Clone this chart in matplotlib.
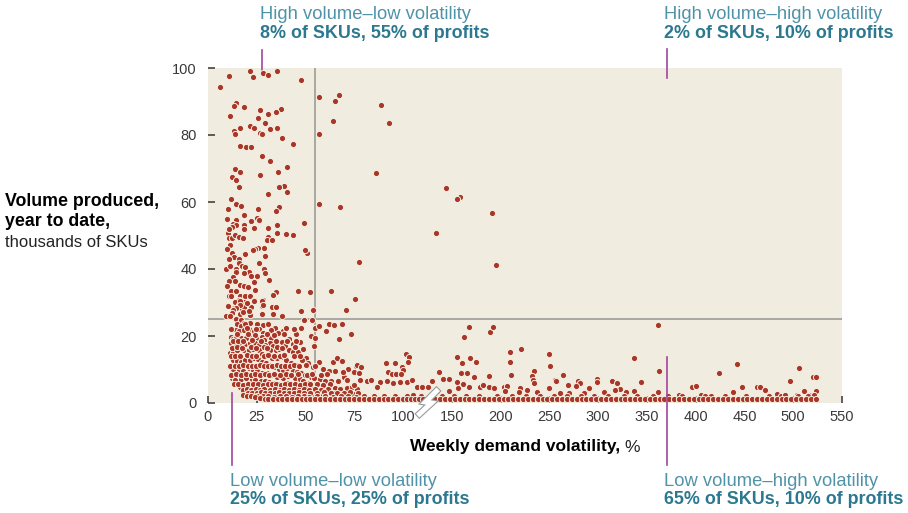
import numpy as np
import matplotlib
matplotlib.use("Agg")
import matplotlib.pyplot as plt
from matplotlib import transforms
import matplotlib.patheffects as pe

plt.rcParams['font.family'] = ['Liberation Sans', 'DejaVu Sans']

# ---------------- data ----------------
xticks = [0, 25, 50, 75, 100, 150, 200, 250, 300, 350, 400, 450, 500, 550]
yticks = [0, 20, 40, 60, 80, 100]
vol_cut = 25      # thousands of SKUs
volat_cut = 55    # weekly demand volatility, %

# high volume - low volatility
hvlv_x = [21.5, 10.6, 28.4, 30.8, 22.9, 35.4, 47.7, 6.0, 14.5, 13.2, 18.3, 26.8, 37.3, 34.7, 30.8, 11.3, 25.6, 29.4,
          16.4, 13.2, 13.8, 21.5, 23.6, 31.9, 35.4, 26.7, 27.5, 37.9, 43.7, 16.4, 19.6, 22.2, 27.5, 31.9, 40.5, 13.8,
          16.4, 26.8, 35.9, 12.5, 14.5, 15.7, 39.1, 36.6, 40.5, 30.8, 11.8,
          14.5, 17.1, 25.6, 36.6, 34.7, 18.3, 25.0, 26.2, 22.2, 14.4, 12.8, 14.5, 18.3, 18.3, 12.5, 23.6, 30.8, 35.4,
          49.1, 10.4, 10.6, 12.2, 13.8, 15.7, 17.8, 35.2, 39.8, 43.7, 30.8, 30.1, 32.7, 11.1, 28.7, 25.5, 24.3, 22.9,
          12.5, 19.0, 50.8, 49.9, 13.2, 29.4, 15.7, 16.1, 26.2, 17.4, 19.0, 9.2, 14.4, 14.4, 21.0, 28.7, 29.4, 18.3,
          22.2, 25.0, 12.7, 10.6, 13.7, 31.3, 23.6, 16.4, 18.3, 34.7, 33.3, 46.3, 52.2, 11.8, 14.2, 10.6, 16.4, 19.1,
          21.7, 28.1, 23.6, 15.7, 13.8, 18.3, 15.7, 27.5, 22.2, 32.8, 34.9, 13.2, 17.1,
          16.2, 23.6, 27.5, 28.4, 18.3, 16.2, 14.4, 13.0, 12.3, 9.2, 11.1, 16.4, 18.1, 21.5, 27.7, 33.3, 37.9, 47.7,
          53.8, 14.2,
          10.2, 9.8, 11.0, 9.5, 10.8, 11.5, 9.8, 12.0, 10.3, 20.5, 24.0, 21.0, 19.8]
hvlv_y = [99.2, 97.7, 98.4, 98.0, 97.3, 99.2, 96.5, 94.3, 89.5, 88.7, 88.3, 87.5, 87.9, 86.8, 86.4, 85.6, 85.2, 83.7,
          82.2, 81.1, 80.3, 82.6, 82.2, 81.8, 82.2, 80.7, 80.3, 79.1, 77.2, 76.8, 76.5, 76.5, 73.8, 72.3, 70.4, 69.8,
          69.0, 68.1, 69.0, 67.5, 66.7, 64.4, 64.8, 64.4, 62.9, 62.5, 60.8,
          59.5, 58.8, 58.0, 58.4, 57.2, 56.1, 55.3, 54.6, 54.2, 54.6, 53.5, 53.0, 53.0, 51.9, 52.6, 52.3, 52.3, 53.1,
          53.8, 50.8, 49.3, 49.3, 50.1, 49.6, 49.3, 50.8, 50.4, 50.1, 49.6, 48.6, 48.6, 47.1, 46.4, 46.4, 46.0, 45.6,
          44.7, 44.5, 44.8, 45.6, 43.7, 44.0, 43.0, 41.8, 41.8, 41.0, 40.6, 39.9, 39.9, 39.2, 39.2, 39.9, 38.8, 38.8,
          38.0, 38.0, 37.7, 36.5, 36.5, 36.8, 36.1, 35.2, 34.9, 33.1, 32.3, 33.5, 33.0, 33.5, 33.5, 31.9, 31.9, 31.9,
          31.9, 30.8, 30.8, 30.8, 30.1, 30.1, 29.3, 29.0, 28.6, 28.6, 28.6, 28.3, 28.3,
          30.4, 30.5, 30.4, 29.4, 28.7, 29.2, 28.5, 27.8, 26.8, 26.0, 26.1, 26.5, 27.1, 26.3, 26.7, 26.7, 26.0, 27.4,
          27.8, 25.2,
          58.0, 55.0, 52.0, 46.0, 43.0, 41.0, 35.0, 32.0, 29.0, 34.5, 33.8, 27.6, 29.8]

# high volume - high volatility
hvhv_x = [56.8, 67.2, 65.1, 63.9, 56.8, 88.7, 92.7, 85.9, 56.8, 67.8, 143.8, 158.2, 155.4, 191.4, 133.9, 77.4,
          195.5, 63.2, 75.5, 70.5]
hvhv_y = [91.3, 92.0, 90.1, 84.1, 80.3, 89.0, 83.7, 68.6, 59.5, 58.4, 64.1, 61.5, 60.8, 56.7, 50.7, 42.2,
          41.2, 33.5, 31.1, 27.8]

# low volume (both volatility classes), above the floor row
lv_x = [16.9, 18.3, 21.5, 14.9, 17.1, 19.0, 25.3, 28.2, 30.8, 34.2, 38.6, 45.1, 47.5, 49.4, 53.3, 54.9, 56.8, 62.1,
        64.6, 68.5, 60.7, 73.2, 67.4, 14.2, 15.7, 18.3, 21.0, 23.4, 26.2, 28.2, 29.7, 32.1, 36.1, 37.9, 41.4, 43.4,
        47.0, 52.8, 54.5, 54.9, 11.6, 13.0, 14.2, 16.9, 19.7, 22.4, 25.0, 27.5, 28.9, 31.8, 33.3, 34.7, 36.6, 39.3,
        41.7, 43.8, 46.0, 48.5, 50.3, 11.8, 14.2, 16.4, 19.0, 21.7, 23.9, 26.3, 29.4, 31.8, 11.3, 13.0, 15.0, 18.3,
        20.9, 23.2, 26.0, 27.5, 29.9, 32.6, 35.6, 37.9, 40.0, 42.4, 45.8, 48.0, 51.1, 53.7, 56.9, 59.1, 64.3, 68.5,
        66.0, 62.1, 65.1, 69.7, 72.1, 74.5, 75.9, 13.0, 14.9, 16.8, 19.1, 21.5, 23.6, 25.5, 27.7, 29.9, 32.0, 34.0,
        36.4, 38.6, 40.7, 43.4, 45.5, 47.5, 49.9, 52.6, 54.5, 57.4, 59.8, 63.1, 66.8, 71.5, 13.0, 15.9, 18.1, 20.9,
        23.2, 25.3, 27.9, 30.1, 32.3, 35.6, 38.6, 41.2, 44.6, 47.2, 48.9, 51.8, 55.4, 12.5, 13.8, 16.9, 19.7, 22.4,
        24.3, 27.0, 29.4, 31.5, 33.3, 36.1, 38.1, 40.3, 43.2, 45.5, 47.5, 50.6, 53.2, 56.2, 59.1, 62.2, 65.1, 67.7,
        71.1, 73.8, 76.2, 14.7, 16.4, 19.0, 21.4, 23.2, 25.8, 27.7, 30.1, 33.2, 35.6, 37.8, 40.3, 42.9, 45.1, 47.7,
        50.6, 54.0, 57.4, 60.9, 64.3, 67.7, 71.1, 74.2,
        68.6, 68.6, 71.8, 69.4, 74.9, 76.2, 78.3, 77.6, 77.9, 81.7, 83.4, 74.9, 91.1, 95.9, 92.5, 94.2, 96.4, 99.6,
        102.7, 106.2, 104.8, 100.3, 99.1, 98.5, 103.8, 109.5, 88.2, 91.6, 95.0, 86.8, 114.1, 119.2, 126.0, 129.5,
        137.3, 141.4, 147.5, 147.5, 134.6, 155.1, 160.3, 159.2, 166.0, 168.1, 175.0, 162.6, 167.1, 189.3, 192.1,
        173.2, 155.1, 156.8, 161.9, 167.1, 179.1, 182.4, 187.6, 188.6, 193.4, 203.0, 206.5, 209.2, 209.2, 220.8,
        210.7, 220.1, 218.4, 233.8, 232.1, 233.1, 227.0, 204.7,
        361.5, 249.2, 250.9, 233.8, 263.6, 256.1, 257.1, 269.1, 279.0, 281.0, 277.6, 298.9, 298.9, 291.0, 249.2,
        261.2, 270.4, 285.1, 237.3, 314.3, 319.4, 322.1, 317.7, 329.0, 336.4, 344.4, 336.4, 362.8, 361.5, 396.4,
        400.5, 405.6, 423.7, 382.6, 305.6,
        442.6, 447.3, 438.1, 463.1, 465.8, 470.9, 483.7, 487.1, 497.1, 506.3, 504.2, 511.4, 520.6, 523.3, 523.0,
        516.1, 415.2]
lv_y = [24.8, 24.0, 24.0, 23.7, 23.1, 23.7, 23.7, 23.2, 23.6, 22.5, 21.6, 20.6, 22.5, 24.9, 24.8, 22.5, 23.1, 23.6,
        23.3, 23.7, 21.4, 20.6, 19.1, 21.8, 21.4, 21.8, 22.1, 21.5, 22.1, 21.0, 20.0, 19.5, 21.0, 18.3, 19.1, 17.7,
        18.2, 19.9, 16.9, 19.5, 19.8, 19.0, 19.4, 19.5, 19.4, 19.5, 19.3, 19.6, 18.7, 17.9, 17.0, 15.9, 16.2, 17.1,
        15.7, 15.2, 15.3, 16.1, 13.3, 17.8, 17.5, 17.8, 17.7, 17.8, 18.0, 17.2, 17.4, 15.7, 14.8, 15.3, 15.7, 15.8,
        15.8, 16.0, 15.8, 14.7, 14.3, 13.3, 13.3, 13.7, 12.9, 12.0, 11.3, 12.9, 11.8, 10.8, 12.2, 10.1, 12.3, 12.5,
        13.3, 9.5, 9.6, 7.9, 9.8, 9.3, 10.9, 12.8, 12.5, 12.2, 12.9, 12.8, 13.3, 13.0, 12.2, 11.8, 11.4, 10.6,
        10.2, 9.9, 10.3, 9.6, 9.3, 9.0, 8.3, 7.7, 7.6, 7.3, 6.5, 6.5, 6.6, 7.0, 10.1, 9.9, 9.6, 10.3,
        9.9, 9.6, 9.1, 9.0, 8.5, 7.9, 7.6, 8.0, 7.6, 7.1, 6.5, 5.9, 5.1, 7.4, 6.9, 7.1, 7.4, 7.1,
        6.9, 6.6, 6.7, 6.3, 6.0, 5.8, 5.3, 5.9, 5.3, 4.8, 5.3, 4.6, 4.1, 3.8, 4.3, 4.6, 4.4, 4.3,
        4.5, 4.7, 4.3, 5.6, 4.9, 3.9, 4.5, 3.9, 4.4, 3.7, 3.3, 3.5, 4.1, 3.4, 3.6, 3.3, 2.7, 3.0,
        2.8, 2.7, 2.6, 2.9, 2.9, 2.7, 2.7, 2.6,
        23.6, 12.6, 10.1, 9.3, 9.3, 11.2, 10.8, 8.9, 6.9, 6.7, 6.9, 5.4, 12.0, 12.0, 9.3, 8.7, 8.7, 10.8,
        14.6, 13.6, 12.3, 9.9, 8.7, 6.4, 6.4, 6.9, 6.4, 6.7, 6.1, 4.9, 4.7, 4.9, 4.9, 6.7,
        9.3, 7.1, 7.1, 3.7, 3.7, 13.8, 11.8, 8.9, 8.9, 13.3, 12.2, 19.8, 22.6, 21.3, 22.6,
        7.7, 6.4, 4.4, 5.7, 4.7, 4.7, 5.4, 8.1, 4.7, 4.4, 4.7, 5.1, 15.3, 12.3, 16.0,
        8.4, 4.4, 3.4, 9.6, 8.1, 6.9, 3.9, 3.7,
        23.3, 14.6, 11.1, 5.9, 8.4, 6.9, 6.6, 5.5, 6.7, 5.9, 5.2, 7.1, 6.2, 4.4, 4.4,
        2.9, 2.9, 2.9, 3.4, 6.6, 5.9, 4.1, 3.9, 3.2, 13.3, 6.3, 3.7, 9.6, 3.2, 4.7,
        5.1, 2.4, 8.9, 2.4, 3.4,
        11.6, 4.7, 3.2, 4.7, 4.7, 3.9, 2.6, 2.2, 6.6, 10.4, 2.4, 3.6, 7.7, 7.7, 3.7,
        2.4, 2.2]

# extra SKUs filling the dense low-volume / low-volatility cloud
cloud_x = [12.0, 20.0, 24.5, 32.5, 40.0, 44.0,
           15.0, 20.5, 24.0, 30.5, 34.0, 39.0,
           12.8, 15.5, 18.0, 22.8, 27.0, 35.0, 40.5, 45.0,
           12.3, 14.7, 17.3, 22.0, 24.8, 28.5, 30.5, 35.5, 38.0, 44.5,
           12.0, 14.0, 16.3, 19.8, 22.3, 24.7, 28.8, 31.0, 34.0, 36.8, 39.0, 44.0, 47.0,
           11.5, 13.8, 15.8, 18.0, 20.3, 22.5, 24.7, 26.8, 28.8, 31.0, 33.0, 35.3, 37.5, 39.5, 42.0, 44.0, 46.5,
           50.0, 55.0,
           12.0, 14.5, 17.0, 19.3, 21.8, 24.2, 26.5, 29.0, 31.2, 33.8, 36.8, 39.8, 42.8, 46.0, 50.5, 53.5, 58.0,
           61.0,
           13.2, 15.6, 18.0, 20.5, 23.0, 25.6, 28.0, 30.6, 33.0, 35.0, 37.2, 39.5, 42.0, 44.5, 47.0, 49.7, 52.5,
           55.8, 59.0, 62.5,
           17.7, 20.2, 22.0, 24.5, 26.8, 28.8, 31.6, 34.3, 36.8, 39.0, 41.5, 44.0, 46.5, 49.0, 52.0, 55.0, 58.0,
           61.5,
           20.5, 22.5, 25.0, 27.3, 29.2, 31.8, 34.5, 36.5, 39.0, 41.5, 44.0, 46.5, 49.0, 52.5, 56.0, 59.5, 63.0,
           66.0, 69.5, 73.0, 77.0]
cloud_y = [22.0, 22.3, 22.0, 21.8, 22.4, 22.0,
           20.5, 20.6, 20.4, 20.7, 20.3, 20.6,
           18.5, 18.6, 18.4, 18.7, 18.5, 18.6, 18.4, 18.6,
           16.5, 16.6, 16.4, 16.7, 16.5, 16.6, 16.4, 16.6, 16.5, 16.7,
           14.0, 14.1, 13.9, 14.2, 14.0, 14.1, 13.9, 14.2, 14.0, 14.1, 14.3, 13.9, 14.1,
           11.0, 11.1, 10.9, 11.2, 11.0, 11.1, 10.9, 11.2, 11.0, 11.1, 10.9, 11.2, 11.0, 11.1, 10.9, 11.2, 11.0,
           11.2, 10.9,
           8.5, 8.6, 8.4, 8.7, 8.5, 8.6, 8.4, 8.7, 8.5, 8.6, 8.4, 8.7, 8.5, 8.6, 8.4, 8.7, 8.5, 8.6,
           5.6, 5.7, 5.5, 5.8, 5.6, 5.7, 5.5, 5.8, 5.6, 5.7, 5.5, 5.8, 5.6, 5.7, 5.5, 5.8, 5.6, 5.7, 5.5, 5.8,
           4.0, 4.1, 3.9, 4.2, 4.0, 4.1, 3.9, 4.2, 4.0, 4.1, 3.9, 4.2, 4.0, 4.1, 3.9, 4.2, 4.0, 4.1,
           3.0, 3.1, 2.9, 3.2, 3.0, 3.1, 2.9, 3.2, 3.0, 3.1, 2.9, 3.2, 3.0, 3.1, 2.9, 3.2, 3.0, 3.1, 2.9, 3.2, 3.0]

# SKUs sitting near the floor (about 1-2 thousand units)
floor_x = [24, 26.5, 29, 31, 33.5, 36, 38, 40.5, 43, 45.5, 48, 50, 52.5, 55, 57.5, 60, 62.5, 65, 67.5, 70, 72.5, 75,
           77.5, 80, 82.5, 85, 87.5, 90, 92.5, 95, 97.5, 100, 104, 108, 112, 116, 120, 128, 133, 138, 143, 148,
           153, 158, 163, 168, 173, 178, 183, 188, 193, 198, 203, 208, 213, 218, 223, 228, 233, 238, 243, 248, 253,
           258, 263, 268, 273, 278, 283, 288, 293, 298, 303, 308, 313, 318, 323, 328, 333, 338, 343, 348, 353, 358,
           363, 368, 373, 378, 383, 388, 393, 398, 403, 408, 413, 418, 423, 428, 433, 438, 443, 448, 453, 458, 463,
           468, 473, 478, 483, 488, 493, 498, 503, 508, 513, 518, 523]
floor_y = [1.7, 1.4] + [1.1] * 115
near_floor_x = [18, 20, 22, 25, 28, 31, 34, 37, 40, 43, 46, 49, 52, 56, 60, 64, 68, 72, 76, 80, 85, 90, 96, 104, 110,
                118, 140, 152, 165, 178, 196, 212, 226, 240, 255, 268, 282, 296, 310, 326, 340, 356, 372, 386, 410,
                430, 452, 475, 492, 505, 515, 521]
near_floor_y = [2.3, 2.1, 2.0, 2.2, 2.0, 2.1, 1.9, 2.0, 2.2, 1.9, 2.1, 2.0, 1.9, 2.0, 2.1, 1.9, 2.0, 2.1, 1.9, 2.2, 2.0,
                2.1, 2.2, 2.0, 2.3, 2.1, 2.0, 2.2, 2.1, 2.0, 2.2, 2.0, 2.1, 2.0, 2.2, 2.0, 2.1, 2.0, 2.2, 2.0, 2.1,
                2.0, 2.2, 2.1, 2.0, 2.2, 2.1, 2.0, 2.3, 2.1, 2.2, 2.4]

# callout texts
callouts = [
    ("High volume\u2013low volatility", "8% of SKUs, 55% of profits"),
    ("High volume\u2013high volatility", "2% of SKUs, 10% of profits"),
    ("Low volume\u2013low volatility", "25% of SKUs, 25% of profits"),
    ("Low volume\u2013high volatility", "65% of SKUs, 10% of profits"),
]

# ---------------- scale ----------------
def fwd(x):
    x = np.asarray(x, dtype=float)
    return np.where(x <= 100, 2 * x, x + 100)


def inv(v):
    v = np.asarray(v, dtype=float)
    return np.where(v <= 200, v / 2, v - 100)


W, H = 908, 513
fig = plt.figure(figsize=(W / 100, H / 100), dpi=100)
ax = fig.add_axes([208 / W, 110 / H, 634 / W, 335 / H])
ax.set_facecolor('#f0ede0')
ax.set_xscale('function', functions=(fwd, inv))
ax.set_xlim(0, 550)
ax.set_ylim(0, 100)
ax.set_xticks(xticks)
ax.set_yticks(yticks)
for s in ax.spines.values():
    s.set_visible(False)
ax.tick_params(axis='both', direction='in', length=5, width=1.1, color='#333333',
               labelsize=10.5, labelcolor='#3a3a3a')
ax.tick_params(axis='x', pad=5)
ax.tick_params(axis='y', pad=8)

ax.axvline(volat_cut, color='#a9a9a4', lw=1.4, zorder=1)
ax.axhline(vol_cut, color='#a9a9a4', lw=1.4, zorder=1)

red = '#a93627'
edge = '#f7f2e6'
all_x = hvlv_x + hvhv_x + lv_x + cloud_x + near_floor_x + floor_x
all_y = hvlv_y + hvhv_y + lv_y + cloud_y + near_floor_y + floor_y
ax.scatter(all_x, all_y, s=20, c=red, edgecolors=edge, linewidths=0.7, zorder=3, clip_on=False)

# axis-break mark on x axis
tr = fig.dpi_scale_trans + transforms.ScaledTranslation(125, 0, ax.transData)
bx = np.array([9, -2, 4, -8]) / 100
by = np.array([12, 1, 0, -11]) / 100
ax.plot(bx, by, transform=tr, color='white', lw=3.6, solid_joinstyle='miter', clip_on=False, zorder=5,
        path_effects=[pe.Stroke(linewidth=5.2, foreground='#9a9a9a'), pe.Normal()])

# callout leader lines (data units)
mag = '#a3449e'
ax.plot([27.7, 27.7], [105.4, 97.9], color=mag, lw=1.2, clip_on=False)
ax.plot([371, 371], [105.7, 97.0], color=mag, lw=1.2, clip_on=False)
ax.plot([12.3, 12.3], [3.0, -18.5], color=mag, lw=1.2, clip_on=False, zorder=4)
ax.plot([371, 371], [13.7, -18.5], color=mag, lw=1.2, clip_on=False, zorder=4)

light = '#4f93a9'
dark = '#2b7890'
pos = [(260, 15, 33), (664, 15, 33), (230, 481, 500), (664, 481, 500)]
for (l1, l2), (px, y1, y2) in zip(callouts, pos):
    fig.text(px / W, 1 - y1 / H, l1, color=light, fontsize=13.2, va='center', ha='left')
    fig.text(px / W, 1 - y2 / H, l2, color=dark, fontsize=12.9, fontweight='bold', va='center', ha='left')

# y label
fig.text(5 / W, 1 - 201 / H, "Volume produced,", fontsize=12.8, fontweight='bold', color='black', va='center')
fig.text(5 / W, 1 - 222 / H, "year to date,", fontsize=12.8, fontweight='bold', color='black', va='center')
fig.text(5 / W, 1 - 243 / H, "thousands of SKUs", fontsize=12, color='#222222', va='center')

# x label
t = fig.text(410 / W, 1 - 447 / H, "Weekly demand volatility,", fontsize=12.5, fontweight='bold',
             color='black', va='center')
fig.canvas.draw()
bb = t.get_window_extent()
fig.text(bb.x1 / W + 4 / W, 1 - 447 / H, "%", fontsize=12.5, color='#222222', va='center')

fig.savefig('out.png', dpi=100)
